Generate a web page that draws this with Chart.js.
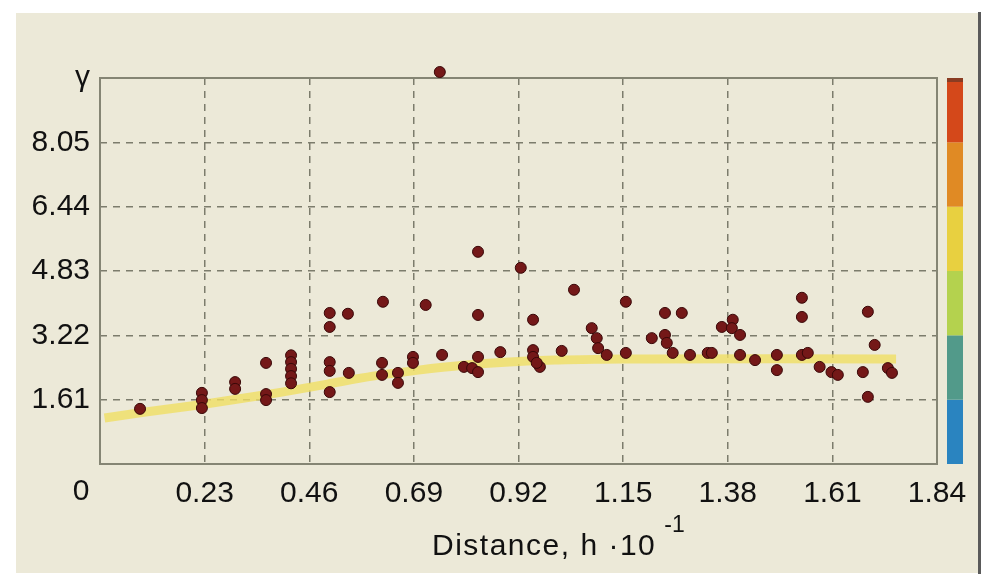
<!DOCTYPE html>
<html>
<head>
<meta charset="utf-8">
<script src="https://cdn.jsdelivr.net/npm/chart.js@4/dist/chart.umd.min.js"></script>
<style>
  html, body { margin: 0; padding: 0; background: #ffffff; }
  #wrap { position: relative; width: 1000px; height: 587px; }
</style>
</head>
<body>
<div id="wrap"><canvas id="chart" width="1000" height="587"></canvas></div>
<script>
// semivariogram cloud: distance (h·10^-1) vs gamma
const distances = [
  0.088, 0.224, 0.224, 0.224, 0.297, 0.297, 0.365, 0.365, 0.365,
  0.42, 0.42, 0.42, 0.42, 0.42,
  0.505, 0.505, 0.545, 0.505, 0.505, 0.505, 0.547,
  0.622, 0.62, 0.62, 0.655, 0.655, 0.688, 0.688, 0.716, 0.752, 0.747,
  0.831, 0.831, 0.80, 0.818, 0.831, 0.831, 0.88,
  0.925, 0.952, 0.952, 0.952, 0.967, 0.96, 1.015, 1.042,
  1.081, 1.092, 1.095, 1.114, 1.156, 1.156,
  1.242, 1.279, 1.213, 1.242, 1.246, 1.259, 1.297, 1.336, 1.345,
  1.367, 1.391, 1.389, 1.407, 1.407, 1.44, 1.488, 1.488,
  1.543, 1.543, 1.543, 1.556, 1.582, 1.608, 1.622,
  1.677, 1.688, 1.703, 1.732, 1.741, 1.688
];
const gammas = [
  1.38, 1.78, 1.6, 1.4, 2.05, 1.88, 2.53, 1.75, 1.6,
  2.72, 2.55, 2.38, 2.2, 2.02,
  3.78, 3.43, 3.76, 2.55, 2.33, 1.8, 2.28,
  4.06, 2.53, 2.23, 2.28, 2.03, 2.68, 2.53, 3.98, 2.73, 9.81,
  5.31, 3.73, 2.43, 2.4, 2.68, 2.3, 2.8,
  4.91, 3.61, 2.85, 2.68, 2.43, 2.53, 2.83, 4.36,
  3.4, 3.15, 2.9, 2.73, 4.06, 2.78,
  3.78, 3.78, 3.15, 3.23, 3.03, 2.78, 2.73, 2.78, 2.78,
  3.43, 3.61, 3.4, 3.23, 2.73, 2.6, 2.73, 2.35,
  4.16, 3.68, 2.73, 2.78, 2.43, 2.3, 2.23,
  2.3, 3.81, 2.98, 2.4, 2.28, 1.68
];

// fitted model curve
const modelDistances = [0.01, 0.1, 0.2, 0.3, 0.4, 0.5, 0.6, 0.7, 0.8, 0.9, 1.0, 1.1, 1.2, 1.75];
const modelGammas    = [1.15, 1.3, 1.45, 1.62, 1.8, 2.0, 2.2, 2.35, 2.47, 2.55, 2.6, 2.62, 2.63, 2.63];

const xTickValues = [0, 0.23, 0.46, 0.69, 0.92, 1.15, 1.38, 1.61, 1.84];
const yTickValues = [0, 1.61, 3.22, 4.83, 6.44, 8.05, 9.66];
const yTickLabels = ['', '1.61', '3.22', '4.83', '6.44', '8.05', 'γ'];

// colour bar, bottom to top
const colorBarColors = ['#2a84c0', '#529a8a', '#b4d24e', '#e8d040', '#e08a24', '#d4481a'];

const FONT = '"Liberation Sans", Arial, sans-serif';
const FONT_SIZE = 30;

const panelPlugin = {
  id: 'panel',
  beforeDraw(chart) {
    const ctx = chart.ctx;
    ctx.save();
    ctx.fillStyle = '#ffffff';
    ctx.fillRect(0, 0, chart.width, chart.height);
    ctx.fillStyle = '#ece9d8';
    ctx.fillRect(16, 13, 964, 560);
    ctx.fillStyle = '#5a5a5a';
    ctx.fillRect(978, 12, 3, 562);
    ctx.restore();
  },
  beforeDatasetsDraw(chart) {
    const {ctx, chartArea: a} = chart;
    ctx.save();
    ctx.strokeStyle = '#858574';
    ctx.lineWidth = 2;
    ctx.strokeRect(a.left, a.top, a.right - a.left, a.bottom - a.top);
    ctx.restore();
  },
  afterDraw(chart) {
    const {ctx, chartArea: a, scales} = chart;
    const y = scales.y;
    ctx.save();
    // colour bar
    const bx = a.right + 10, bw = 16;
    for (let i = 0; i < colorBarColors.length; i++) {
      const top = y.getPixelForValue(yTickValues[i + 1]);
      const bot = y.getPixelForValue(yTickValues[i]);
      ctx.fillStyle = colorBarColors[i];
      ctx.fillRect(bx, top, bw, bot - top);
    }
    ctx.fillStyle = '#8a3c22';
    ctx.fillRect(bx, y.getPixelForValue(yTickValues[6]), bw, 4);
    // origin label
    ctx.fillStyle = '#111';
    ctx.font = FONT_SIZE + 'px ' + FONT;
    ctx.textAlign = 'center';
    ctx.textBaseline = 'middle';
    ctx.fillText('0', a.left - 19, a.bottom + 28);
    // axis title with superscript
    ctx.textAlign = 'left';
    ctx.textBaseline = 'alphabetic';
    ctx.letterSpacing = '1.5px';
    const t = 'Distance, h \u00b710';
    const tx = a.left + 332;
    ctx.fillText(t, tx, a.bottom + 91);
    const w = ctx.measureText(t).width;
    ctx.font = '23px ' + FONT;
    ctx.letterSpacing = '0px';
    ctx.fillText('-1', tx + w + 8, a.bottom + 68);
    ctx.restore();
  }
};

const gridStyle = {
  color: '#7c7c6c',
  lineWidth: 1.5,
  drawTicks: false
};

new Chart(document.getElementById('chart'), {
  type: 'scatter',
  data: {
    datasets: [
      {
        label: 'cloud',
        data: distances.map((d, i) => ({x: d, y: gammas[i]})),
        backgroundColor: '#741818',
        borderColor: '#3a0808',
        borderWidth: 1,
        pointRadius: 5.5,
        clip: false,
        order: 1
      },
      {
        label: 'model',
        data: modelDistances.map((d, i) => ({x: d, y: modelGammas[i]})),
        showLine: true,
        borderColor: 'rgba(240, 222, 100, 0.8)',
        borderWidth: 9,
        pointRadius: 0,
        tension: 0.3,
        order: 2
      }
    ]
  },
  options: {
    responsive: false,
    animation: false,
    layout: {padding: {top: 78, right: 63, bottom: 0, left: 0}},
    plugins: {legend: {display: false}, tooltip: {enabled: false}},
    scales: {
      x: {
        type: 'linear',
        min: 0,
        max: 1.84,
        afterBuildTicks: s => { s.ticks = xTickValues.map(v => ({value: v})); },
        afterFit: s => { s.height = 123; },
        grid: Object.assign({}, gridStyle),
        border: {display: false, dash: [7, 6]},
        ticks: {
          padding: 12,
          color: '#111',
          font: {family: FONT, size: FONT_SIZE},
          maxRotation: 0,
          callback: v => (v === 0 ? '' : v.toFixed(2))
        }
      },
      y: {
        type: 'linear',
        min: 0,
        max: 9.66,
        afterBuildTicks: s => { s.ticks = yTickValues.map(v => ({value: v})); },
        afterFit: s => { s.width = 100; },
        grid: Object.assign({}, gridStyle),
        border: {display: false, dash: [7, 6]},
        ticks: {
          padding: 10,
          color: '#111',
          font: {family: FONT, size: FONT_SIZE},
          callback: (v, i) => yTickLabels[i]
        }
      }
    }
  },
  plugins: [panelPlugin]
});
</script>
</body>
</html>
